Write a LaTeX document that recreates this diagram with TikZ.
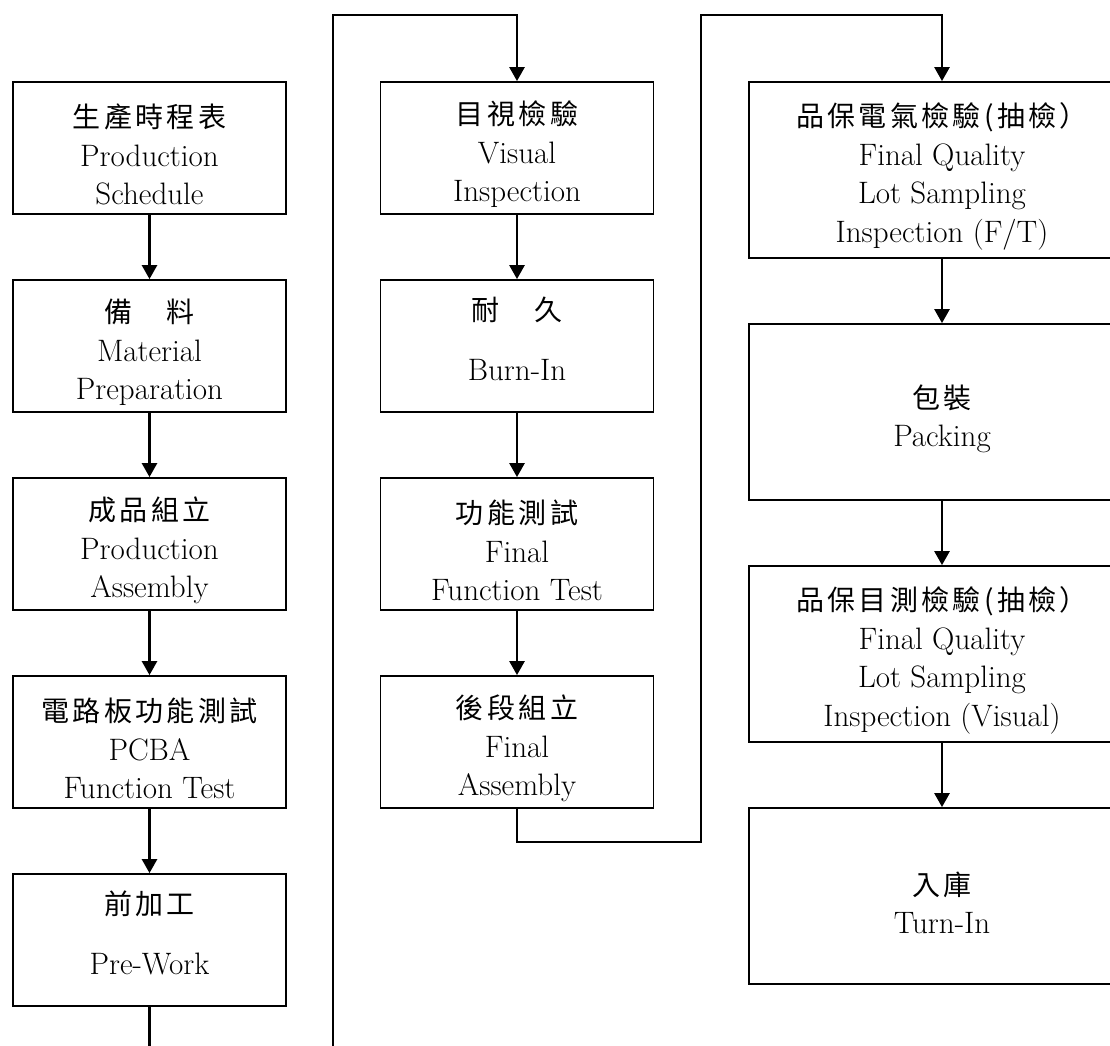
\documentclass[tikz,border=0pt]{standalone}
\usepackage{fontspec}
\newfontfamily\zh[LetterSpace=12]{Noto Sans CJK TC}
\newcommand\zhline[1]{{\zh\fontsize{28}{38}\selectfont\rule{0pt}{37pt}#1}}
\newcommand\lowgap{\rule[-28pt]{0pt}{28pt}}
\usetikzlibrary{arrows.meta,shapes}

\begin{document}
\begin{tikzpicture}[x=1pt,y=-1pt,node distance=198pt,
stage/.style={
rectangle,
draw,
line width=1.8pt,
minimum width=273pt,
minimum height=132pt,
inner sep=0pt,
align=center,
font=\fontsize{31}{38.5}\selectfont
},
wide/.style={
minimum width=386pt,
minimum height=176pt
},
flow/.style={
line width=2.6pt,
-{Triangle[length=14pt,width=15pt]}
}]
\clip (0,0) rectangle (1110,1045);
\node (schedule) [stage] at (149.5,148) {\zhline{生產時程表}\\Production\\Schedule};
\node (material) [stage,below of = schedule] {\zhline{備　料}\\Material\\Preparation};
\node (prodasm) [stage,below of = material] {\zhline{成品組立}\\Production\\Assembly};
\node (pcba) [stage,below of = prodasm] {\zhline{電路板功能測試}\\PCBA\\Function Test};
\node (prework) [stage,below of = pcba] {\zhline{前加工}\\[22pt]Pre-Work\lowgap};
\node (visual) [stage] at (517,148) {\zhline{目視檢驗}\\Visual\\Inspection};
\node (burnin) [stage,below of = visual] {\zhline{耐　久}\\[22pt]Burn-In\lowgap};
\node (functest) [stage,below of = burnin] {\zhline{功能測試}\\Final\\Function Test};
\node (finasm) [stage,below of = functest] {\zhline{後段組立}\\Final\\Assembly};
\node (fqcft) [stage,wide] at (942,170) {\zhline{品保電氣檢驗(抽檢）}\\Final Quality\\Lot Sampling\\Inspection (F/T)};
\node (packing) [stage,wide,below of = fqcft, node distance=242pt] {\zhline{包裝}\\Packing};
\node (fqcvis) [stage,wide,below of = packing, node distance=242pt] {\zhline{品保目測檢驗(抽檢）}\\Final Quality\\Lot Sampling\\Inspection (Visual)};
\node (turnin) [stage,wide,below of = fqcvis, node distance=242pt] {\zhline{入庫}\\Turn-In};
\draw[flow] (schedule) -- (material);
\draw[flow] (material) -- (prodasm);
\draw[flow] (prodasm) -- (pcba);
\draw[flow] (pcba) -- (prework);
\draw[flow] (visual) -- (burnin);
\draw[flow] (burnin) -- (functest);
\draw[flow] (functest) -- (finasm);
\draw[flow] (fqcft) -- (packing);
\draw[flow] (packing) -- (fqcvis);
\draw[flow] (fqcvis) -- (turnin);
\coordinate (cutA) at ([yshift=-60pt]prework.south);
\draw[line width=2.6pt] (prework) -- (cutA);
\coordinate (cutB) at (333,1080);
\coordinate (topB) at ([yshift=66pt]visual.north);
\draw[flow] (cutB) |- (topB) -- (visual);
\coordinate (lowC) at ([yshift=-33pt]finasm.south);
\coordinate (sideC) at (701,0);
\coordinate (topC) at ([yshift=66pt]fqcft.north);
\draw[flow] (finasm) -- (lowC) -| (topC -| sideC) -- (topC) -- (fqcft);
\end{tikzpicture}
\end{document}
